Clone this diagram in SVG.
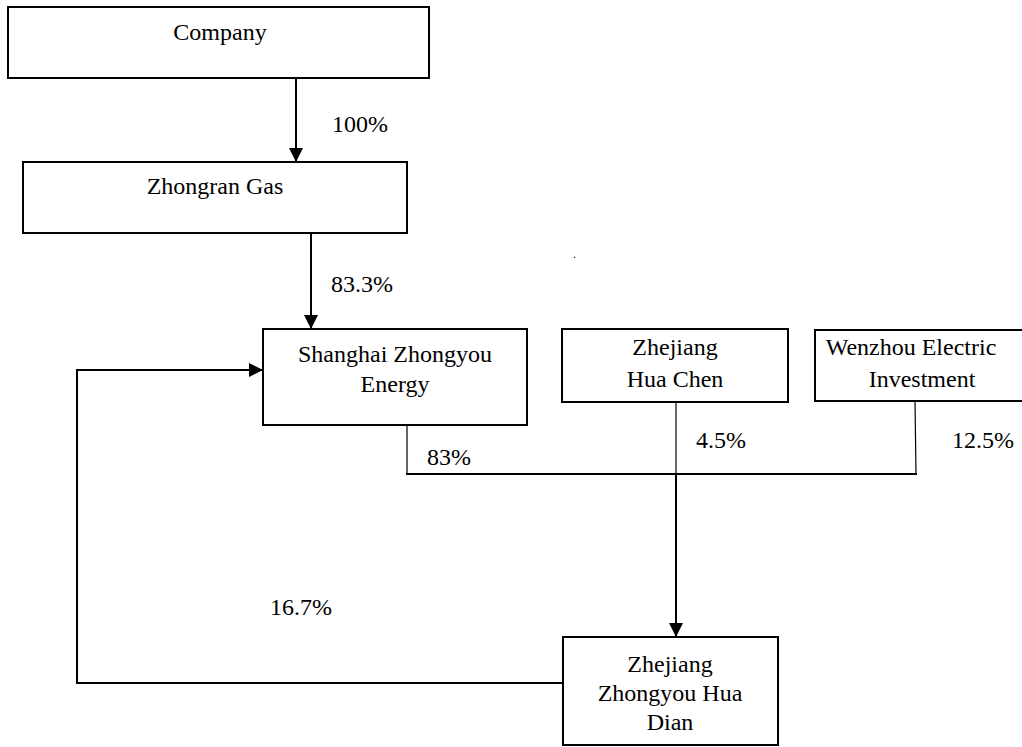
<svg xmlns="http://www.w3.org/2000/svg" width="1022" height="747" viewBox="0 0 1022 747">
<style>
.box{fill:#fff;stroke:#000;stroke-width:2}
.t{font-size:24px;fill:#000}
.c{text-anchor:middle}
.ln{fill:none;stroke:#000;stroke-width:2}
.thin{fill:none;stroke:#000;stroke-width:1.2}
</style>
<defs>
<marker id="ah" markerWidth="14" markerHeight="14" refX="14" refY="7" orient="auto" markerUnits="userSpaceOnUse">
<path d="M0,0 L14,7 L0,14 Z" fill="#000"/>
</marker>
</defs>
<rect width="1022" height="747" fill="#fff"/>
<g id="connectors">
<line class="ln" x1="296" y1="78" x2="296" y2="162" marker-end="url(#ah)"/>
<line class="ln" x1="311" y1="233" x2="311" y2="329" marker-end="url(#ah)"/>
<polyline class="thin" points="407,425 407,474"/>
<line class="ln" x1="406" y1="474" x2="917" y2="474"/>
<polyline class="thin" points="915,401 916,474"/>
<line class="thin" x1="676" y1="402" x2="676" y2="474"/>
<line class="ln" x1="676" y1="474" x2="676" y2="637" marker-end="url(#ah)"/>
<polyline class="ln" points="563,683 77,683 77,370 263,370" marker-end="url(#ah)"/>
</g>
<g font-family="'Liberation Serif', 'Times New Roman', Tinos, 'DejaVu Serif', serif">
<g id="company">
<rect class="box" x="8" y="7" width="421" height="71"/>
<text class="t c" x="220" y="40">Company</text>
</g>
<g id="zhongran">
<rect class="box" x="23" y="162" width="384" height="71"/>
<text class="t c" x="215" y="194">Zhongran Gas</text>
</g>
<g id="shanghai">
<rect class="box" x="263" y="329" width="264" height="96"/>
<text class="t c" x="395" y="362">Shanghai Zhongyou</text>
<text class="t c" x="395" y="392">Energy</text>
</g>
<g id="huachen">
<rect class="box" x="562" y="329" width="226" height="73"/>
<text class="t c" x="675" y="355">Zhejiang</text>
<text class="t c" x="675" y="387">Hua Chen</text>
</g>
<g id="wenzhou">
<rect class="box" x="815" y="330" width="220" height="71"/>
<text class="t c" x="911" y="355">Wenzhou Electric</text>
<text class="t c" x="922" y="387">Investment</text>
</g>
<g id="huadian">
<rect class="box" x="563" y="637" width="215" height="108"/>
<text class="t c" x="670" y="672">Zhejiang</text>
<text class="t c" x="670" y="701">Zhongyou Hua</text>
<text class="t c" x="670" y="730">Dian</text>
</g>
<g id="labels">
<text class="t" x="332" y="132">100%</text>
<text class="t" x="331" y="292">83.3%</text>
<text class="t" x="573" y="258" style="font-size:12px">.</text>
<text class="t" x="427" y="465">83%</text>
<text class="t" x="696" y="448">4.5%</text>
<text class="t" x="952" y="448">12.5%</text>
<text class="t" x="270" y="615">16.7%</text>
</g>
</g>
</svg>
